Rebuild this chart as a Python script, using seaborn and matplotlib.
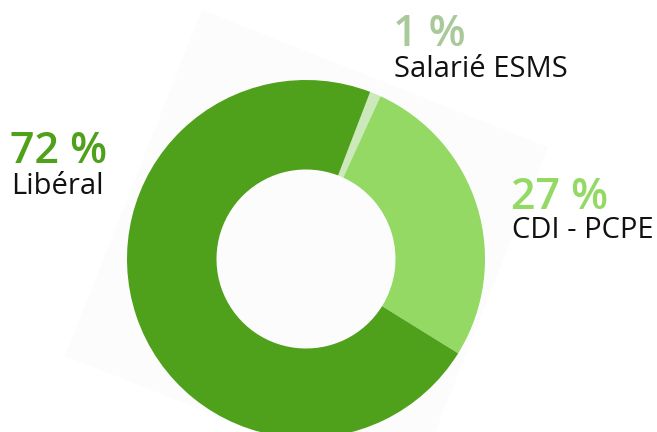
import matplotlib
matplotlib.use("Agg")
import matplotlib.pyplot as plt
import seaborn as sns
import numpy as np
from matplotlib.patches import Polygon

categories = ["Salarié ESMS", "CDI - PCPE", "Libéral"]
values = [1, 27, 72]
pct_labels = ["1 %", "27 %", "72 %"]
slice_colors = ["#cbe9ba", "#93d964", "#4fa01a"]
label_colors = ["#a9c99a", "#93d964", "#4fa01a"]

sns.set_theme(style="white")
plt.rcParams["font.family"] = ["Open Sans", "DejaVu Sans"]

W, H = 657, 432
fig = plt.figure(figsize=(W / 100, H / 100), dpi=100)
ax = fig.add_axes([0, 0, 1, 1])

cx, cy = 306, H - 259
R = 179

# faint rotated square backdrop
ang = np.deg2rad(21.6)
side = 372
c = np.array([306.5, H - 251.5])
u = np.array([np.cos(ang), -np.sin(ang)]) * side / 2
v = np.array([np.sin(ang), np.cos(ang)]) * side / 2
pts = [c + v - u, c + v + u, c - v + u, c - v - u]
ax.add_patch(Polygon(pts, closed=True, facecolor="#fcfcfc", edgecolor="none", zorder=0))

ax.pie(values, colors=slice_colors, startangle=69, counterclock=False,
       center=(cx, cy), radius=R, frame=True,
       wedgeprops=dict(width=R * 0.5, edgecolor="none", linewidth=0))
ax.set_xlim(0, W)
ax.set_ylim(0, H)
ax.set_aspect("equal")
ax.axis("off")

# label positions (left x, percent baseline, name baseline) in pixels from top
pos = {
    "Salarié ESMS": (393, 46, 77),
    "CDI - PCPE": (511, 209, 238),
    "Libéral": (10, 163, 194),
}
for cat, pl, lc in zip(categories, pct_labels, label_colors):
    x, yb1, yb2 = pos[cat]
    ax.text(x, H - yb1, pl, color=lc, fontsize=31, fontweight="semibold",
            ha="left", va="baseline")
    ax.text(x + 1, H - yb2, cat, color="#111111", fontsize=21,
            ha="left", va="baseline")

fig.savefig("out.png", dpi=100)
